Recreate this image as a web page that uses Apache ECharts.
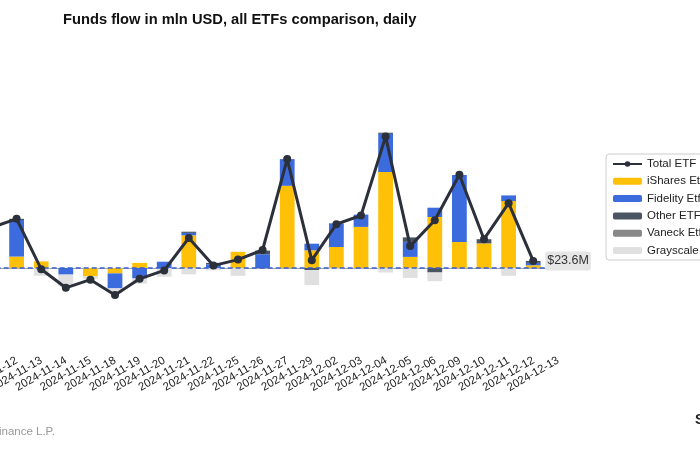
<!DOCTYPE html>
<html>
<head>
<meta charset="utf-8">
<script src="https://cdn.jsdelivr.net/npm/echarts@6/dist/echarts.min.js"></script>
<style>html,body{margin:0;padding:0;background:#fff}#c{width:700px;height:450px}</style>
</head>
<body>
<div id="c"></div>
<script>
const dates = ['2024-11-12','2024-11-13','2024-11-14','2024-11-15','2024-11-18','2024-11-19','2024-11-20','2024-11-21','2024-11-22','2024-11-25','2024-11-26','2024-11-27','2024-11-29','2024-12-02','2024-12-03','2024-12-04','2024-12-05','2024-12-06','2024-12-09','2024-12-10','2024-12-11','2024-12-12','2024-12-13'];
const seriesNames = ['Total ETF Flow','iShares Etf','Fidelity Etf','Other ETFs','Vaneck Etf','Grayscale Etf'];
const totalFlow = [135, 164, -4, -66, -39, -90, -36, -8, 100, 8, 28, 60, 363, 26, 146, 175, 438, 73, 159, 311, 96, 216, 23.6];
const ishares   = [90, 38, 22, 0, -28, -18, 17, 0, 109, 0, 54, 0, 274, 59, 70, 137, 320, 37, 170, 87, 82, 223, 9];
const fidelity  = [45, 122, 0, -22, 0, -50, -35, 21, 8, 12, 0, 46, 89, 22, 79, 41, 127, 50, 31, 223, 0, 19, 8];
const other     = [0, 4, 0, 0, 0, 0, 0, 0, 4, 5, 0, 12, 0, -7, 0, 0, 4, 15, -15, 0, 14, 0, 6.6];
const vaneck    = [0, 0, 0, 0, 0, 0, 0, 0, 0, 0, 0, 0, 0, 0, 0, 0, 0, 0, 0, 0, 0, 0, 0];
const grayscale = [0, 0, -26, -40, -8, -15, -17, -29, -21, -8, -26, 0, 0, -50, -4, 0, -15, -33, -29, 0, 0, -26, 0];

const colors = ['#2b303b','#ffc107','#3c6bdd','#4a5563','#888888','#e0e0e0'];
const FONT = 'Liberation Sans, Arial, sans-serif';

const chart = echarts.init(document.getElementById('c'), null, {renderer:'canvas'});
const barData = [ishares, fidelity, other, vaneck, grayscale];
const bars = barData.map((d, i) => ({
  name: seriesNames[i+1],
  type: 'bar',
  stack: 'flows',
  barWidth: '60%',
  data: d,
  itemStyle: {color: colors[i+1]},
  z: 2
}));
bars[4].markLine = {
  silent: true,
  symbol: ['none','none'],
  label: {show: false},
  lineStyle: {type: [5,3], color: '#3a5fcd', width: 1.5},
  data: [{yAxis: 0}],
  z: 4
};
const last = totalFlow.length - 1;
const lineData = totalFlow.map((v, i) => i === last ? {
  value: v,
  label: {
    show: true, position: 'right', distance: 8,
    formatter: p => '$' + p.value + 'M',
    backgroundColor: '#e6e6e6', borderRadius: 3, padding: [3,2,3,2],
    fontSize: 12.5, color: '#333', fontFamily: FONT
  }
} : v);

chart.setOption({
  animation: false,
  backgroundColor: '#fff',
  color: colors,
  textStyle: {fontFamily: FONT},
  title: {
    text: 'Funds flow in mln USD, all ETFs comparison, daily',
    left: 58, top: 7,
    textStyle: {fontSize: 14.7, fontWeight: 'bold', color: '#111', fontFamily: FONT}
  },
  legend: {
    orient: 'vertical',
    left: 606, top: 154,
    padding: [4, 6, 3.5, 6],
    itemGap: 5.3,
    itemWidth: 29, itemHeight: 7,
    borderColor: '#cccccc', borderWidth: 1, borderRadius: 3,
    backgroundColor: '#fff',
    textStyle: {fontSize: 11.5, lineHeight: 12, color: '#222', fontFamily: FONT},
    data: seriesNames
  },
  grid: {left: -20.3, right: 154.5, top: 58, bottom: 107, containLabel: false, outerBoundsMode: 'none'},
  xAxis: {
    type: 'category',
    data: dates,
    boundaryGap: true,
    axisLine: {lineStyle: {color: '#aaaaaa', width: 1}},
    axisTick: {alignWithLabel: true, length: 5, lineStyle: {color: '#444'}},
    axisLabel: {interval: 0, rotate: 30, align: 'center', verticalAlign: 'middle', margin: 31, fontSize: 11.3, color: '#222', fontFamily: FONT},
    splitLine: {show: false}
  },
  yAxis: {
    type: 'value', min: -250, max: 700, show: false,
    splitLine: {show: false}
  },
  series: [{
    name: seriesNames[0],
    type: 'line',
    data: lineData,
    symbol: 'circle', symbolSize: 8,
    lineStyle: {width: 3, color: colors[0]},
    itemStyle: {color: colors[0]},
    z: 5
  }].concat(bars),
  graphic: [
    {type: 'text', x: 55, y: 432, style: {text: 'Source: Bloomberg Finance L.P.', align: 'right', verticalAlign: 'middle', fontSize: 11.5, fill: '#999', fontFamily: FONT}},
    {type: 'text', x: 695, y: 420, style: {text: 'S', align: 'left', verticalAlign: 'middle', fontSize: 14, fontWeight: 'bold', fill: '#222', fontFamily: FONT}}
  ]
});
</script>
</body>
</html>
